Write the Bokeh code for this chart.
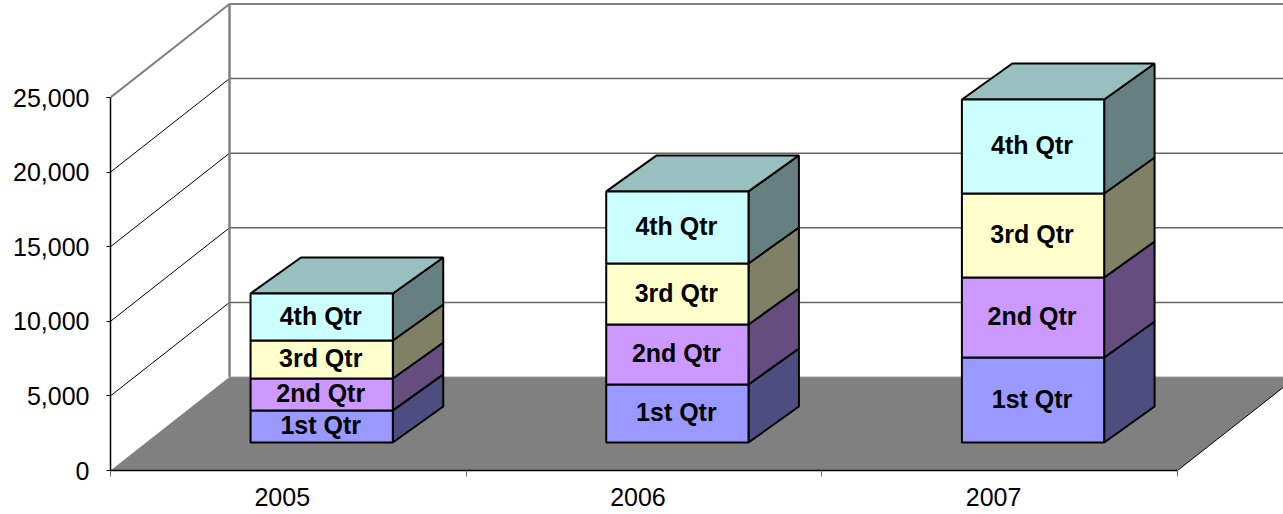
from bokeh.plotting import figure
from bokeh.embed import file_html
from bokeh.resources import INLINE
from bokeh.models import FixedTicker, NumeralTickFormatter, Range1d
from bokeh.core.properties import value

years = ["2005", "2006", "2007"]
q1 = [2150, 3890, 5700]
q2 = [2140, 4020, 5360]
q3 = [2550, 4090, 5630]
q4 = [3150, 4830, 6300]
series_names = ["1st Qtr", "2nd Qtr", "3rd Qtr", "4th Qtr"]
front_colors = ["#9999FF", "#CC99FF", "#FFFFCC", "#CCFFFF"]
side_colors = ["#4D4D80", "#664D80", "#808066", "#668080"]
top_color = "#99C0C0"
y_ticks = [0, 5000, 10000, 15000, 20000, 25000]
series = [q1, q2, q3, q4]

W, H = 1283, 514
LEFT, BOTTOM = 110, 44
PX_PER_X = 355.67
PX_PER_Y = 373 / 25000
XMAX = (W - LEFT) / PX_PER_X
YMAX = (H - BOTTOM) / PX_PER_Y
DX, DY = 119 / PX_PER_X, 93.5 / PX_PER_Y  # full chart depth in data units
BACK = (1.0, 1.0)                         # back wall (x depth, y depth)
FRONT_BAR = (0.2803, 0.2995)              # bar front face, as fraction of the floor depth
BACK_BAR = (0.704, 0.6845)                # bar back face
HALF = 0.2                                # half bar width in category units


def proj(x, y, d):
    return x + d[0] * DX, y + d[1] * DY


p = figure(width=W, height=H, output_backend="svg", toolbar_location=None,
           x_range=Range1d(0, XMAX), y_range=Range1d(0, YMAX),
           min_border_left=LEFT, min_border_bottom=BOTTOM, min_border_top=0, min_border_right=0,
           outline_line_color=None, margin=(0, 0, 0, 0))
p.xgrid.visible = False
p.ygrid.visible = False

# axes
ya = p.yaxis[0]
ya.ticker = FixedTicker(ticks=y_ticks)
ya.formatter = NumeralTickFormatter(format="0,0")
ya.bounds = (0, 25000)
ya.axis_line_color = "black"
ya.axis_line_width = 1.5
ya.major_tick_line_color = "black"
ya.major_tick_in = 0
ya.major_tick_out = 4
ya.major_label_standoff = 17
ya.major_label_text_font = "Liberation Sans"
ya.major_label_text_font_size = "25px"
ya.major_label_text_color = "black"
ya.minor_tick_line_color = None

xa = p.xaxis[0]
label_ticks = [i + 0.483 for i in range(len(years))]
xa.ticker = FixedTicker(ticks=label_ticks, minor_ticks=list(range(len(years) + 1)))
xa.major_label_overrides = {t: y for t, y in zip(label_ticks, years)}
xa.bounds = (0, len(years))
xa.axis_line_color = "black"
xa.axis_line_width = 1.5
xa.major_tick_line_color = None
xa.minor_tick_line_color = "#707070"
xa.minor_tick_in = 0
xa.minor_tick_out = 6
xa.major_label_standoff = 11
xa.major_label_text_font = "Liberation Sans"
xa.major_label_text_font_size = "25px"
xa.major_label_text_color = "black"

# walls
n = len(years)
for v in y_ticks[1:]:
    top = v == y_ticks[-1]
    x0, y0 = proj(0, v, BACK)
    p.line([0, x0], [v, y0], line_color="#808080" if top else "black", line_width=2 if top else 1)
    p.line([x0, XMAX], [y0, y0], line_color="#808080" if top else "#666666", line_width=2 if top else 1.5)
xb, yb = proj(0, 0, BACK)
xt, yt = proj(0, y_ticks[-1], BACK)
p.line([xb, xt], [yb, yt], line_color="#808080", line_width=2.5)

# floor
fx = [0, n, n + DX, DX]
fy = [0, 0, DY, DY]
p.patch(fx, fy, fill_color="#808080", line_color=None)
p.line([n, n + DX], [0, DY], line_color="black", line_width=1)
p.line([DX, n + DX], [DY, DY], line_color="#9A9A9A", line_width=1)

# bars
for i, year in enumerate(years):
    cx = i + 0.5
    xl, xr = cx - HALF, cx + HALF
    base = 0.0
    for s, vals in enumerate(series):
        top = base + vals[i]
        a = proj(xl, base, FRONT_BAR)
        b = proj(xr, base, FRONT_BAR)
        c = proj(xr, top, FRONT_BAR)
        d = proj(xl, top, FRONT_BAR)
        e = proj(xr, base, BACK_BAR)
        f = proj(xr, top, BACK_BAR)
        g = proj(xl, top, BACK_BAR)
        p.patch([b[0], e[0], f[0], c[0]], [b[1], e[1], f[1], c[1]],
                fill_color=side_colors[s], line_color="black", line_width=2)
        if s == len(series) - 1:
            p.patch([d[0], c[0], f[0], g[0]], [d[1], c[1], f[1], g[1]],
                    fill_color=top_color, line_color="black", line_width=2)
        p.patch([a[0], b[0], c[0], d[0]], [a[1], b[1], c[1], d[1]],
                fill_color=front_colors[s], line_color="black", line_width=2)
        mx, my = proj(cx, (base + top) / 2, FRONT_BAR)
        p.text([mx], [my], text=[series_names[s]], text_font=value("Liberation Sans"),
               text_font_style="bold", text_font_size="25px", text_color="black",
               text_align="center", text_baseline="middle", x_offset=-1, y_offset=-1)
        base = top

open("out.html", "w").write(file_html(p, INLINE))
